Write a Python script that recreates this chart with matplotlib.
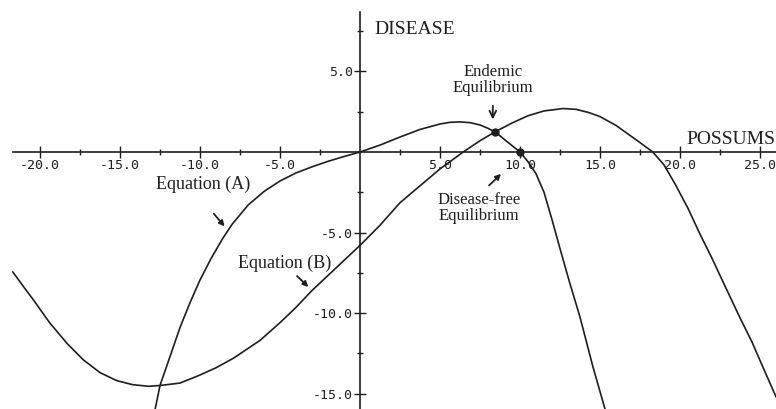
import numpy as np
import matplotlib.pyplot as plt
from matplotlib.ticker import FixedLocator

# curve values (x = possums, y = disease)
eq_a_x = [-12.8, -12.5, -12.1, -11.7, -11.25, -10.6, -10.0, -9.3, -8.6, -8.0, -7.0, -6.0,
          -5.0, -4.0, -3.0, -2.0, -1.0, 0.0, 1.25, 2.5, 3.75, 5.0, 5.6, 6.25, 6.9, 7.5,
          8.0, 8.44, 9.0, 9.5, 10.0, 10.5, 11.0, 11.5, 12.0, 12.5, 13.1, 13.75, 14.56, 15.31]
eq_a_y = [-15.95, -14.5, -13.35, -12.2, -10.9, -9.3, -7.95, -6.6, -5.4, -4.5, -3.3, -2.45,
          -1.8, -1.3, -0.92, -0.58, -0.28, 0.0, 0.43, 0.93, 1.4, 1.74, 1.84, 1.87, 1.82, 1.68,
          1.47, 1.25, 0.8, 0.4, 0.0, -0.6, -1.35, -2.5, -4.2, -6.0, -8.1, -10.25, -13.35, -15.95]

eq_b_x = [-21.7, -21.0, -20.4, -19.4, -18.3, -17.3, -16.25, -15.2, -14.2, -13.2, -12.5,
          -11.25, -10.0, -9.0, -7.9, -6.25, -5.0, -4.0, -3.0, -1.5, 0.0, 1.25, 2.5, 3.75,
          5.0, 6.45, 7.5, 8.44, 9.5, 10.5, 11.5, 12.7, 13.5, 14.3, 15.0, 16.0, 17.2, 18.3,
          19.0, 19.7, 20.5, 21.25, 22.0, 22.8, 23.75, 24.5, 25.2, 26.0]
eq_b_y = [-7.45, -8.4, -9.2, -10.6, -11.9, -12.9, -13.7, -14.2, -14.45, -14.55, -14.5,
          -14.35, -13.85, -13.4, -12.8, -11.7, -10.6, -9.65, -8.6, -7.2, -5.8, -4.55, -3.15, -2.1,
          -1.05, 0.0, 0.7, 1.25, 1.8, 2.25, 2.55, 2.7, 2.65, 2.45, 2.2, 1.65, 0.8, 0.0,
          -0.8, -2.0, -3.5, -5.1, -6.6, -8.3, -10.3, -11.8, -13.4, -15.2]

equilibria_x = [8.44, 10.0]
equilibria_y = [1.25, 0.0]

x_major = [-20, -15, -10, -5, 5, 10, 15, 20, 25]
y_major = [5, -5, -10, -15]
x_minor = [-17.5, -12.5, -7.5, -2.5, 2.5, 7.5, 12.5, 17.5, 22.5]
y_minor = [7.5, 2.5, -2.5, -7.5, -12.5]

serif = 'Liberation Serif'
ink = '#1e1e1e'

fig = plt.figure(figsize=(7.76, 4.09), dpi=100)
ax = fig.add_axes([0, 0, 1, 1])
ax.set_xlim(-22.5, 26)
ax.set_ylim(-15.96, 9.44)

ax.plot(eq_a_x, eq_a_y, color=ink, lw=1.2, solid_joinstyle='round')
ax.plot(eq_b_x, eq_b_y, color=ink, lw=1.2, solid_joinstyle='round')
ax.plot(equilibria_x, equilibria_y, 'o', color=ink, ms=5)

# axes through the origin
for s in ['top', 'right']:
    ax.spines[s].set_visible(False)
ax.spines['left'].set_position(('data', 0))
ax.spines['bottom'].set_position(('data', 0))
ax.spines['left'].set_bounds(-16, 8.7)
ax.spines['bottom'].set_bounds(-21.7, 26)
for s in ['left', 'bottom']:
    ax.spines[s].set_color(ink)
    ax.spines[s].set_linewidth(1.2)

ax.xaxis.set_major_locator(FixedLocator(x_major))
ax.xaxis.set_minor_locator(FixedLocator(x_minor))
ax.yaxis.set_major_locator(FixedLocator(y_major))
ax.yaxis.set_minor_locator(FixedLocator(y_minor))
ax.set_xticklabels([f'{v:.1f}' for v in x_major])
ax.set_yticklabels([f'{v:.1f}' for v in y_major])
ax.tick_params(which='major', direction='inout', length=8, width=1, color=ink,
               labelsize=9.5, labelcolor=ink, pad=1)
ax.tick_params(which='minor', direction='inout', length=4, width=1, color=ink)
for lab in ax.get_xticklabels() + ax.get_yticklabels():
    lab.set_family('DejaVu Sans Mono')

ax.text(0.875, 7.58, 'DISEASE', family=serif, fontsize=14, color=ink, ha='left', va='center')
ax.text(25.95, 0.75, 'POSSUMS', family=serif, fontsize=14, color=ink, ha='right', va='center')

ax.text(8.3, 4.47, 'Endemic\nEquilibrium', family=serif, fontsize=12, color=ink,
        ha='center', va='center', linespacing=1.05)
ax.annotate('', xy=(8.3, 1.85), xytext=(8.3, 3.05),
            arrowprops=dict(arrowstyle='->', color=ink, lw=1.3, mutation_scale=12))

ax.text(7.44, -3.48, 'Disease-free\nEquilibrium', family=serif, fontsize=12, color=ink,
        ha='center', va='center', linespacing=1.05)
ax.annotate('', xy=(8.94, -1.24), xytext=(7.94, -2.2),
            arrowprops=dict(arrowstyle='-|>', color=ink, lw=1.3, mutation_scale=8))

ax.text(-9.8, -2.0, 'Equation (A)', family=serif, fontsize=13, color=ink, ha='center', va='center')
ax.annotate('', xy=(-8.35, -4.75), xytext=(-9.25, -3.7),
            arrowprops=dict(arrowstyle='-|>', color=ink, lw=1.3, mutation_scale=8))

ax.text(-4.7, -6.9, 'Equation (B)', family=serif, fontsize=13, color=ink, ha='center', va='center')
ax.annotate('', xy=(-3.1, -8.5), xytext=(-4.06, -7.58),
            arrowprops=dict(arrowstyle='-|>', color=ink, lw=1.3, mutation_scale=8))

fig.savefig('out.png', dpi=100)
